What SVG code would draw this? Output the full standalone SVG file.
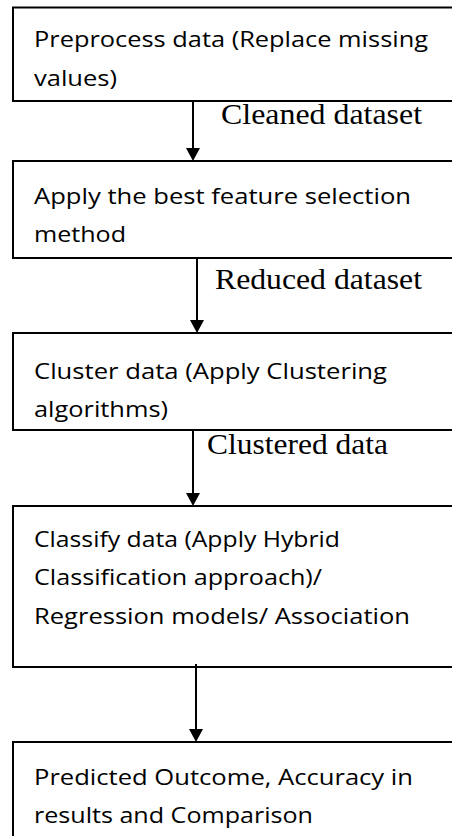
<svg xmlns="http://www.w3.org/2000/svg" width="452" height="836" viewBox="0 0 452 836">
  <style>
    .box { fill: #ffffff; stroke: #000000; stroke-width: 2; }
    .step { font-family: "Open Sans", "Noto Sans", "Liberation Sans", sans-serif; font-size: 21.5px; fill: #000000; }
    .edge { stroke: #000000; stroke-width: 2; fill: none; }
    .head { fill: #000000; }
    .lbl { font-family: "Liberation Serif", "Times New Roman", serif; font-size: 29px; fill: #000000; }
  </style>
  <rect x="0" y="0" width="452" height="836" fill="#ffffff"/>

  <g id="node-preprocess">
    <rect class="box" x="13" y="7.5" width="460" height="93.5"/>
    <text class="step" x="34" y="47" textLength="394" lengthAdjust="spacingAndGlyphs">Preprocess data (Replace missing</text>
    <text class="step" x="34" y="86" textLength="83" lengthAdjust="spacingAndGlyphs">values)</text>
  </g>

  <g id="node-feature-selection">
    <rect class="box" x="13" y="161" width="460" height="97"/>
    <text class="step" x="34" y="204" textLength="377" lengthAdjust="spacingAndGlyphs">Apply the best feature selection</text>
    <text class="step" x="34" y="242" textLength="92" lengthAdjust="spacingAndGlyphs">method</text>
  </g>

  <g id="node-cluster">
    <rect class="box" x="13" y="333" width="460" height="97"/>
    <text class="step" x="34" y="379" textLength="353" lengthAdjust="spacingAndGlyphs">Cluster data (Apply Clustering</text>
    <text class="step" x="34" y="417" textLength="134" lengthAdjust="spacingAndGlyphs">algorithms)</text>
  </g>

  <g id="node-classify">
    <rect class="box" x="13" y="506" width="460" height="161"/>
    <text class="step" x="34" y="547" textLength="306" lengthAdjust="spacingAndGlyphs">Classify data (Apply Hybrid</text>
    <text class="step" x="34" y="585" textLength="288" lengthAdjust="spacingAndGlyphs">Classification approach)/</text>
    <text class="step" x="34" y="624" textLength="376" lengthAdjust="spacingAndGlyphs">Regression models/ Association</text>
  </g>

  <g id="node-outcome">
    <rect class="box" x="13" y="742" width="460" height="120"/>
    <text class="step" x="34" y="785" textLength="379" lengthAdjust="spacingAndGlyphs">Predicted Outcome, Accuracy in</text>
    <text class="step" x="34" y="823" textLength="279" lengthAdjust="spacingAndGlyphs">results and Comparison</text>
  </g>

  <g id="connectors">
    <line class="edge" x1="193" y1="101" x2="193" y2="150"/>
    <polygon class="head" points="186,148 200,148 193,161"/>
    <text class="lbl" x="221" y="124" textLength="201" lengthAdjust="spacingAndGlyphs">Cleaned dataset</text>

    <line class="edge" x1="197" y1="258" x2="197" y2="322"/>
    <polygon class="head" points="190,320 204,320 197,333"/>
    <text class="lbl" x="215" y="289" textLength="207" lengthAdjust="spacingAndGlyphs">Reduced dataset</text>

    <line class="edge" x1="193" y1="430" x2="193" y2="495"/>
    <polygon class="head" points="186,493 200,493 193,506"/>
    <text class="lbl" x="207" y="454" textLength="181" lengthAdjust="spacingAndGlyphs">Clustered data</text>

    <line class="edge" x1="196" y1="664" x2="196" y2="731"/>
    <polygon class="head" points="189,729 203,729 196,742"/>
  </g>
</svg>
